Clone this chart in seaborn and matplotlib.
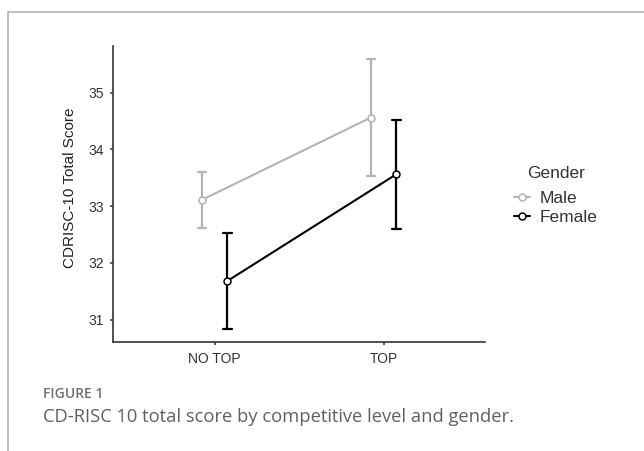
import pandas as pd
import matplotlib.pyplot as plt
from matplotlib.lines import Line2D
import seaborn as sns

# === Values (mean and half-width of error bar) ===
levels = ["NO TOP", "TOP"]
genders = ["Male", "Female"]
male_mean = [33.11, 34.56]
male_err = [0.49, 1.03]
female_mean = [31.68, 33.56]
female_err = [0.84, 0.96]

# Each point as two rows (lower, upper) -> mean = centre, full range = error bar
rows = []
for g, means, errs in [("Male", male_mean, male_err), ("Female", female_mean, female_err)]:
    for lvl, m, e in zip(levels, means, errs):
        rows.append({"Level": lvl, "Gender": g, "Score": m - e})
        rows.append({"Level": lvl, "Gender": g, "Score": m + e})
df = pd.DataFrame(rows)

sns.set_theme(style="ticks")
plt.rcParams["font.family"] = ["Liberation Sans", "DejaVu Sans"]

fig = plt.figure(figsize=(6.44, 4.51), dpi=100)
ax = fig.add_axes([113.3 / 644, 1 - 342.3 / 451, (485 - 113.3) / 644, (342.3 - 46) / 451])

palette = {"Male": "#b3b3b3", "Female": "#000000"}
sns.pointplot(
    data=df, x="Level", y="Score", hue="Gender",
    order=levels, hue_order=genders, palette=palette,
    estimator="mean", errorbar=("pi", 100),
    dodge=0.15, capsize=0.05, markers="o", linestyles="-",
    linewidth=1.5, markersize=5, markeredgewidth=1.1,
    markerfacecolor="white", zorder=3,
    err_kws={"linewidth": 1.6, "zorder": 2},
    legend=False, ax=ax,
)

ax.set_xlim(-0.6, 1.6)
ax.set_ylim(30.6, 35.82)
ax.set_yticks([31, 32, 33, 34, 35])
ax.set_xlabel("")
ax.set_ylabel("CDRISC-10 Total Score", fontsize=11, color="#222222")
ax.yaxis.set_label_coords(-0.098, 0.52)
sns.despine(ax=ax)
for s in ["left", "bottom"]:
    ax.spines[s].set_color("#333333")
    ax.spines[s].set_linewidth(1.2)
ax.tick_params(axis="both", length=2.2, width=1.1, color="#333333",
               labelsize=10, labelcolor="#333333", pad=4.5)

# Legend
handles = [l for l in ax.lines if l.get_marker() == "o"]
leg = ax.legend(
    handles, genders, title="Gender", frameon=False,
    loc="upper left", bbox_to_anchor=(514 / 644, 1 - 166 / 451),
    bbox_transform=fig.transFigure, borderpad=0, borderaxespad=0,
    handlelength=0.9, handletextpad=0.6, labelspacing=0.22,
    fontsize=12.5, title_fontsize=12.5,
)
leg._legend_box.sep = 7
for t in leg.get_texts():
    t.set_color("#333333")
leg.get_title().set_color("#333333")

# Panel border (top and left lines)
bx, by = 8.3 / 644, 1 - 11.7 / 451
fig.add_artist(Line2D([bx, 1], [by, by], color="#b0b0b0", lw=1.1, transform=fig.transFigure))
fig.add_artist(Line2D([bx, bx], [0, by], color="#b0b0b0", lw=1.1, transform=fig.transFigure))

# Caption
fig.text(43 / 644, 1 - 398.3 / 451, "FIGURE 1", family=["Open Sans", "DejaVu Sans"],
         weight="semibold", fontsize=10, color="#707070", va="baseline")
fig.text(43 / 644, 1 - 422 / 451, "CD-RISC 10 total score by competitive level and gender.",
         family=["Open Sans", "DejaVu Sans"], fontsize=13.2, color="#606060", va="baseline")

fig.savefig("out.png", dpi=100)
